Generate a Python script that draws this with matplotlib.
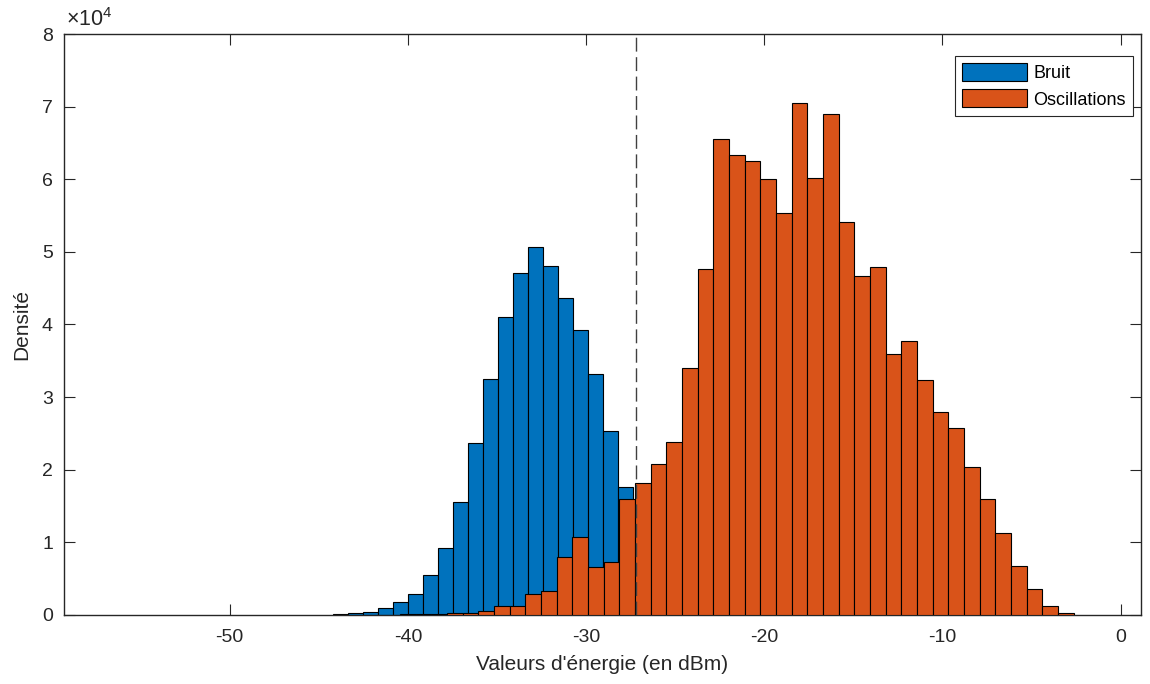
# -*- coding: utf-8 -*-
import matplotlib
matplotlib.use('Agg')
import matplotlib.pyplot as plt
import numpy as np
from matplotlib.ticker import FuncFormatter

plt.rcParams['font.family'] = ['Liberation Sans', 'DejaVu Sans']
plt.rcParams['mathtext.fontset'] = 'custom'
plt.rcParams['mathtext.rm'] = 'Liberation Sans'
plt.rcParams['axes.unicode_minus'] = False

# histogram bins (dBm)
bruit_start = -44.2
bruit_width = 0.842
bruit_counts = [100, 200, 400, 920, 1750, 2920, 5450, 9200, 15550, 23630,
                32500, 40970, 47080, 50670, 48000, 43630, 39220, 33150,
                25380, 17610]

osc_start = -40.44
osc_width = 0.8793
osc_counts = [50, 100, 150, 250, 300, 450, 1150, 1200, 2900, 3300,
              7900, 10750, 6600, 7200, 16000, 18200, 20800, 23800, 34000,
              47600, 65600, 63400, 62500, 60100, 55300, 70500, 60200, 69000,
              54100, 46700, 47900, 35900, 37700, 32400, 27900, 25800, 20300,
              16000, 11300, 6700, 3500, 1200, 300]

seuil = -27.2
labels = ['Bruit', 'Oscillations']

bruit_left = bruit_start + bruit_width * np.arange(len(bruit_counts))
osc_left = osc_start + osc_width * np.arange(len(osc_counts))

fig = plt.figure(figsize=(11.5, 6.84), dpi=100)
ax = fig.add_axes([0.0557, 0.1013, 0.9365, 0.8486])

dark = '#262626'
ax.bar(bruit_left, bruit_counts, width=bruit_width, align='edge',
       color='#0072BD', edgecolor='k', linewidth=0.8, label=labels[0], zorder=2)
ax.bar(osc_left, osc_counts, width=osc_width, align='edge',
       color='#D95319', edgecolor='k', linewidth=0.8, label=labels[1], zorder=3)

ax.axvline(seuil, color='0.25', linestyle=(0, (10, 4)), linewidth=1.0, zorder=4)

ax.set_xlim(-59.3, 1.15)
ax.set_ylim(0, 80000)
ax.set_xticks(np.arange(-50, 1, 10))
ax.set_yticks(np.arange(0, 80001, 10000))
ax.yaxis.set_major_formatter(FuncFormatter(lambda v, p: '{:g}'.format(v / 1e4)))

ax.tick_params(direction='in', length=8, width=0.8, top=True, right=True,
               labelsize=14, colors=dark)
ax.tick_params(axis='x', pad=10)
ax.tick_params(axis='y', pad=8)
for s in ax.spines.values():
    s.set_color(dark)
    s.set_linewidth(1.0)

ax.text(0.002, 1.006, r'$\times\mathregular{10^{4}}$', transform=ax.transAxes,
        ha='left', va='bottom', fontsize=15.5, color=dark)

ax.set_xlabel("Valeurs d'énergie (en dBm)", fontsize=15, color=dark, labelpad=7)
ax.set_ylabel('Densité', fontsize=15, color=dark, labelpad=8)

leg = ax.legend(loc='upper right', bbox_to_anchor=(0.9926, 0.9626),
                borderaxespad=0, fontsize=13, fancybox=False, framealpha=1,
                edgecolor=dark, handlelength=3.6, handleheight=1.15,
                handletextpad=0.35, labelspacing=0.4, borderpad=0.4)
leg.get_frame().set_linewidth(0.8)

fig.savefig('out.png', dpi=100)
